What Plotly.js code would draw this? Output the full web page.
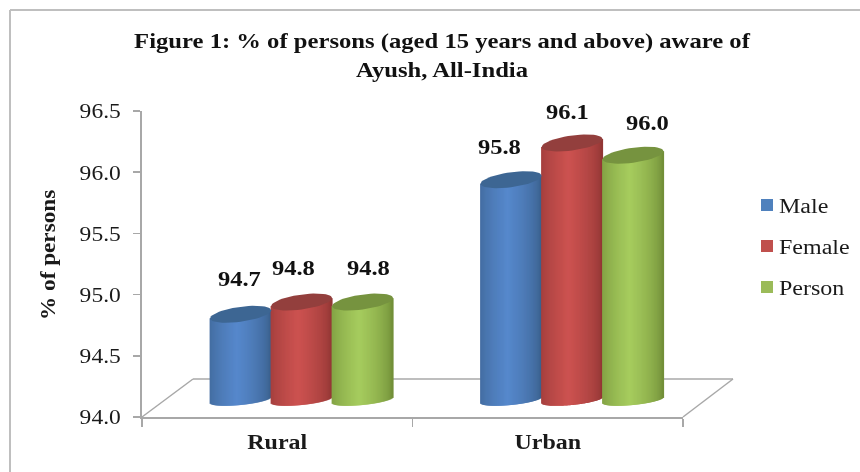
<!DOCTYPE html>
<html>
<head>
<meta charset="utf-8">
<script src="https://cdn.plot.ly/plotly-3.0.1.min.js"></script>
<style>
html,body{margin:0;padding:0;background:#fff}
#chart{width:860px;height:472px;filter:blur(0.4px)}
#chart .legend .legendtext{transform:translateX(-8px)}
</style>
</head>
<body>
<div id="chart"></div>
<script>
const categories = ['Rural', 'Urban'];
const seriesNames = ['Male', 'Female', 'Person'];
const male = [94.7, 95.8];
const female = [94.8, 96.1];
const person = [94.8, 96.0];
const yTicks = [94.0, 94.5, 95.0, 95.5, 96.0, 96.5];
const titleText = 'Figure 1: % of persons (aged 15 years and above) aware of<br>Ayush, All-India';
const yTitle = '% of persons';

const series = [male, female, person];
const edge = [[56,92,134],[140,52,50],[108,136,52]];
const mid = ['#4F81BD','#C0504D','#9BBB59'];
const center = [[86,136,204],[204,82,80],[166,204,94]];
const lid = ['#3D6693','#933F3D','#76933F'];
const labelShift = [[-1,-8,6],[-12,-5,14]];
const labelRise = [35,34,34,32.5,31,32];

const W=860,H=472,L=142,R=683,T=111,B=417;
const pxX=(R-L)/2, pxY=(B-T)/2.5;
const shiftX=0.09, shiftY=17/pxY;
const cylW=61/pxX, step=61/pxX, tilt=4, baseTilt=3, lidB=7.5, baseB=5, N=61;
const px=x=>(x-L)/(R-L), py=y=>(B-y)/(B-T);
const mix=(a,b,f)=>'rgb('+a.map((v,i)=>Math.round(v+(b[i]-v)*f)).join(',')+')';

const traces=[{x:categories,y:[94,94],type:'scatter',mode:'none',showlegend:false,hoverinfo:'skip'}];
const lids=[];
const annotations=[];
series.forEach((vals,s)=>{
  const xc=vals.map((v,c)=>c+(s-1)*step);
  traces.push({type:'bar',name:seriesNames[s],x:xc,y:vals.map(v=>v-94),base:vals.map(()=>94),width:cylW*0.5,
    xaxis:'x2',yaxis:'y2',legendgroup:seriesNames[s],marker:{color:mid[s],line:{width:0}},hoverinfo:'skip'});
  const sx=[],sy=[],sb=[],sc=[];
  vals.forEach((v,c)=>{
    for(let i=0;i<N;i++){
      const u=(i+0.5)/N*2-1;
      const bot=94+(baseTilt*u-baseB*Math.sqrt(1-u*u))/pxY;
      const top=v+tilt*u/pxY;
      sx.push(xc[c]+u*cylW/2); sb.push(bot); sy.push(top-bot);
      sc.push(mix(edge[s],center[s],Math.pow(Math.max(0,1-Math.abs(u+0.1)/1.1),0.55)));
    }
  });
  traces.push({type:'bar',x:sx,y:sy,base:sb,width:2/pxX,xaxis:'x2',yaxis:'y2',showlegend:false,
    marker:{color:sc,line:{width:0}},hoverinfo:'skip'});
  vals.forEach((v,c)=>{
    const ex=[],ey=[];
    for(let k=0;k<=48;k++){
      const a=k/48*2*Math.PI, u=Math.cos(a);
      ex.push(xc[c]+u*cylW/2);
      ey.push(v+(tilt*u+lidB*Math.sin(a))/pxY);
    }
    lids.push({type:'scatter',mode:'lines',x:ex,y:ey,fill:'toself',fillcolor:lid[s],line:{width:0,color:lid[s]},
      xaxis:'x2',yaxis:'y2',showlegend:false,hoverinfo:'skip'});
    annotations.push({xref:'x2',yref:'y2',x:xc[c],y:v,text:v.toFixed(1),showarrow:false,
      xshift:labelShift[c][s],yshift:labelRise[c*3+s],xanchor:'center',yanchor:'middle',
      font:{family:'Liberation Serif',size:21,color:'#111',weight:'bold'}});
  });
});
annotations.push({xref:'paper',yref:'paper',x:px(48),y:py(255),xanchor:'center',yanchor:'middle',text:yTitle,textangle:-90,showarrow:false,
  font:{family:'Liberation Serif',size:20,color:'#1a1a1a',weight:'bold'}});

const grey='#a8a8a8';
const seg=(x0,y0,x1,y1,c,w)=>({type:'line',xref:'paper',yref:'paper',x0:px(x0),y0:py(y0),x1:px(x1),y1:py(y1),line:{color:c,width:w},layer:'below'});
const shapes=[
  seg(10,10,860,10,'#bfbfbf',2),
  seg(10,10,10,472,'#bfbfbf',2),
  seg(142,417,193,379,grey,1.5),
  seg(193,379,733,379,grey,1.5),
  seg(733,379,683,417,grey,1.5)
];

const layout={
  width:W,height:H,margin:{l:L,r:W-R,t:T,b:H-B,autoexpand:false},paper_bgcolor:'#fff',plot_bgcolor:'rgba(0,0,0,0)',
  barmode:'overlay',
  title:{text:titleText,font:{family:'Liberation Serif',size:22,color:'#111',weight:'bold'},x:442/W,xanchor:'center',y:1-48/H,yanchor:'top'},
  xaxis:{type:'category',categoryorder:'array',categoryarray:categories,range:[-0.5,1.5],tickson:'boundaries',ticks:'outside',ticklen:8,tickcolor:grey,tickwidth:1.5,
    showline:true,linecolor:grey,linewidth:2,showgrid:false,zeroline:false,ticklabelstandoff:6,
    tickfont:{family:'Liberation Serif',size:20,color:'#1a1a1a',weight:'bold'}},
  yaxis:{range:[94,96.5],tickmode:'array',tickvals:yTicks,ticktext:yTicks.map(v=>v.toFixed(1)),ticks:'outside',ticklen:7,tickcolor:grey,tickwidth:1.5,
    showline:true,linecolor:grey,linewidth:2,showgrid:false,zeroline:false,ticklabelstandoff:8,
    tickfont:{family:'Liberation Serif',color:'#1a1a1a',size:21}},
  xaxis2:{overlaying:'x',anchor:'y2',visible:false,range:[-0.5-shiftX,1.5-shiftX]},
  yaxis2:{overlaying:'y',anchor:'x2',visible:false,range:[94-shiftY,96.5-shiftY]},
  legend:{x:px(747),y:py(246),xanchor:'left',yanchor:'middle',tracegroupgap:12,bgcolor:'rgba(0,0,0,0)',
    font:{family:'Liberation Serif',size:20,color:'#1a1a1a'}},
  annotations,shapes
};
function stretch(el,f){
  el.setAttribute('lengthAdjust','spacingAndGlyphs');
  el.setAttribute('textLength',el.getComputedTextLength()*f);
}
Plotly.newPlot('chart',traces.concat(lids),layout,{displayModeBar:false,staticPlot:true}).then(()=>{
  const q=s=>document.querySelectorAll('#chart '+s);
  q('.gtitle tspan.line').forEach(e=>stretch(e,1.12));
  q('.ytick text').forEach(e=>stretch(e,1.12));
  q('.xtick text').forEach(e=>stretch(e,1.2));
  q('.legendtext').forEach(e=>stretch(e,1.2));
  q('.annotation-text').forEach(e=>stretch(e,e.textContent===yTitle?1.16:1.17));
});
</script>
</body>
</html>
